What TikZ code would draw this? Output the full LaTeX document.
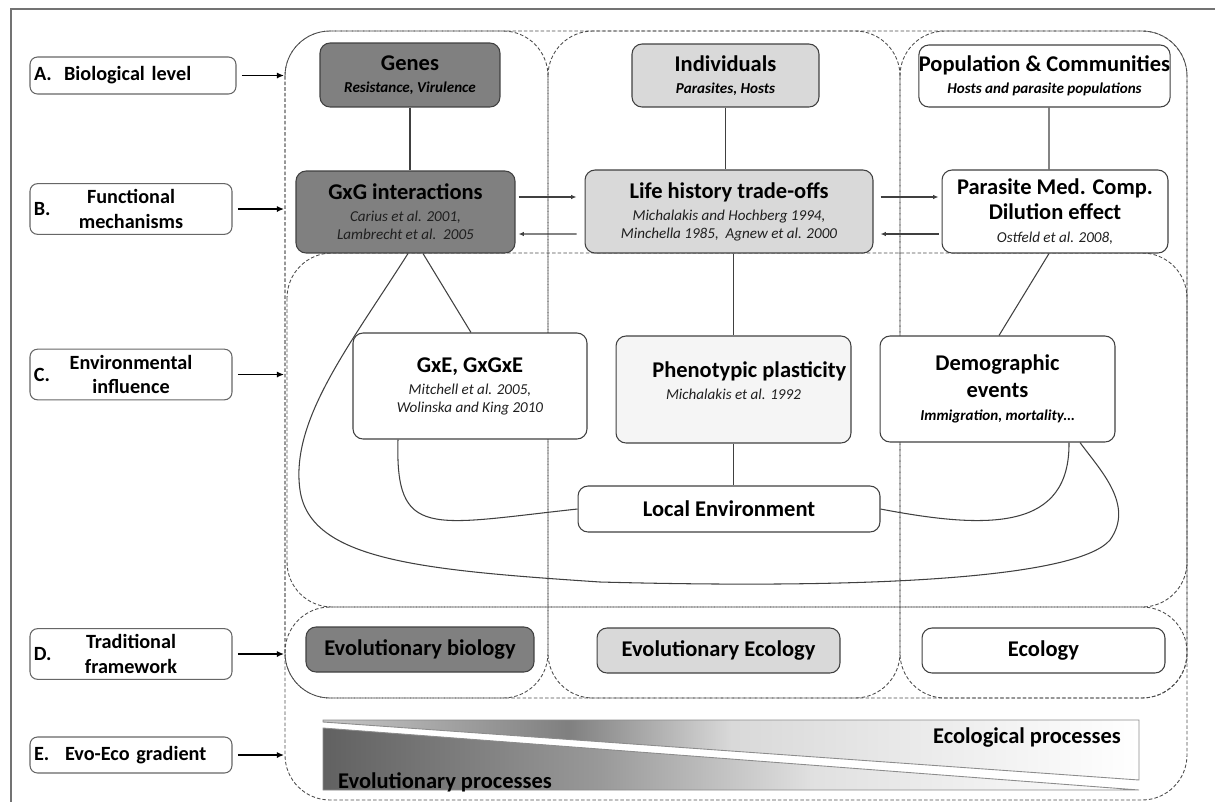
\documentclass[tikz,border=0pt]{standalone}
\usepackage{fontspec}
\setmainfont{Carlito}
\usetikzlibrary{calc}
\usetikzlibrary{arrows.meta}

\newcommand{\refs}[1]{{\fontsize{8.6}{10}\selectfont\mdseries\itshape\color{black!88}#1}}
\newcommand{\tagline}[1]{{\fontsize{8.6}{10}\selectfont\bfseries\itshape #1}}

\pgfdeclarehorizontalshading{ecoshade}{100bp}{color(0bp)=(black!22); color(25bp)=(black!22); color(40bp)=(black!50); color(50bp)=(black!15); color(75bp)=(white); color(100bp)=(white)}
\pgfdeclarehorizontalshading{evoshade}{100bp}{color(0bp)=(black!62); color(25bp)=(black!62); color(42bp)=(black!40); color(55bp)=(black!12); color(75bp)=(white); color(100bp)=(white)}

\begin{document}
\begin{tikzpicture}[x=0.02cm, y=-0.02cm,
    box/.style={draw=black!75, rounded corners=0.2cm, line width=0.6pt, inner sep=0pt, align=center,
                font=\fontsize{12.8}{12.5}\selectfont\bfseries},
    darkbox/.style={box, fill=black!50},
    greybox/.style={box, fill=black!15},
    palebox/.style={box, fill=black!4},
    whitebox/.style={box, fill=white},
    labbox/.style={draw=black!60, rounded corners=0.15cm, line width=0.6pt, fill=white, inner xsep=0.08cm,
                   minimum width=4.04cm, align=center, font=\fontsize{11.5}{14}\selectfont\bfseries},
    grp/.style={draw=black!70, dash pattern=on 2pt off 1.2pt, line width=0.5pt, rounded corners=0.9cm},
    conn/.style={draw=black!75, line width=0.6pt},
    feed/.style={conn, -{Latex[length=3pt,width=2.5pt]}},
    pointer/.style={line width=1.1pt, -{Latex[length=4pt,width=3.5pt]}, shorten <=3pt},
    wedge/.style={draw=black!45, line width=0.5pt}]

    \useasboundingbox (0,0) rectangle (1215,802);
    \draw[black!55, line width=0.8pt] (11,9) rectangle (1260,840);

    \draw[grp] (285,31) rectangle (1187,800);
    \draw[grp] (285,31) rectangle (548,698);
    \draw[grp] (548,31) rectangle (900,698);
    \draw[grp] (900,31) rectangle (1187,698);
    \draw[grp] (287,253) rectangle (1187,607);
    \draw[grp] (285,607) rectangle (1187,698);
    \coordinate (edge) at (284,0);

    \node[labbox, minimum width=4.12cm, minimum height=0.74cm, text width=3.96cm, align=left] (labA) at (133,75.5) {A.\hspace{7pt}Biological level};
    \node[labbox, minimum height=0.88cm] (labB) at (131,209) {Functional\\mechanisms};
    \node[labbox, minimum height=0.9cm] (labC) at (131,374.5) {Environmental\\influence};
    \node[labbox, minimum height=0.88cm] (labD) at (131,654) {Traditional\\framework};
    \node[labbox, minimum height=0.72cm, text width=3.88cm, align=left] (labE) at (131,755) {E.\hspace{9pt}Evo-Eco gradient};
    \node[anchor=west, inner sep=0pt, font=\fontsize{11.5}{14}\selectfont\bfseries] (tagB) at ($(labB.west)+(4,0)$) {B.};
    \node[anchor=west, inner sep=0pt, font=\fontsize{11.5}{14}\selectfont\bfseries] (tagC) at ($(labC.west)+(4,0)$) {C.};
    \node[anchor=west, inner sep=0pt, font=\fontsize{11.5}{14}\selectfont\bfseries] (tagD) at ($(labD.west)+(4,0)$) {D.};

    \draw[pointer] (labA.east) -- (labA.east -| edge);
    \draw[pointer] (labB.east) -- (labB.east -| edge);
    \draw[pointer] (labC.east) -- (labC.east -| edge);
    \draw[pointer] (labD.east) -- (labD.east -| edge);
    \draw[pointer] (labE.east) -- (labE.east -| edge);

    \node[darkbox, minimum width=3.6cm, minimum height=1.28cm] (genes) at (410,75) {Genes\\\tagline{Resistance, Virulence}};
    \node[greybox, minimum width=3.74cm, minimum height=1.26cm] (indiv) at (725.5,75.5) {Individuals\\\tagline{Parasites, Hosts}};
    \node[whitebox, minimum width=4.98cm, minimum height=1.24cm] (popul) at (1044.5,76) {Population \& Communities\\\tagline{Hosts and parasite populations}};

    \node[darkbox, minimum width=4.38cm, minimum height=1.64cm] (gxg) at (405.5,212) {GxG interactions\\\refs{Carius et al. 2001,}\\[-2.3pt]\refs{Lambrecht et al.\ \ 2005}};
    \node[greybox, minimum width=5.76cm, minimum height=1.66cm] (life) at (729,211.5) {Life history trade-offs\\\refs{Michalakis and Hochberg 1994,}\\[-2.3pt]\refs{Minchella 1985,\ \ Agnew et al. 2000}};
    \node[whitebox, minimum width=4.52cm, minimum height=1.66cm] (paras) at (1055,211.5) {Parasite Med. Comp.\\[2.2pt]Dilution effect\\[0.5pt]\refs{Ostfeld et al. 2008,}};

    \node[whitebox, minimum width=4.68cm, minimum height=2.12cm] (gxe) at (470,386) {GxE, GxGxE\\\refs{Mitchell et al. 2005,}\\[-2.3pt]\refs{Wolinska and King 2010}};
    \node[palebox, minimum width=4.7cm, minimum height=2.14cm] (pheno) at (733.5,389.5) {\hspace{18pt}Phenotypic plasticity\\\refs{Michalakis et al. 1992}\\[-2pt]\mbox{}};
    \node[whitebox, minimum width=4.7cm, minimum height=2.12cm] (demo) at (997.5,389) {Demographic\\[2.8pt]events\\[0.5pt]\tagline{Immigration, mortality…}};
    \node[whitebox, minimum width=6.04cm, minimum height=0.92cm] (local) at (729,509) {Local Environment};

    \node[darkbox, minimum width=4.56cm, minimum height=0.9cm] (evob) at (420,649.5) {Evolutionary biology};
    \node[greybox, minimum width=4.86cm, minimum height=0.9cm] (evoe) at (718.5,650.5) {Evolutionary Ecology};
    \node[whitebox, minimum width=4.86cm, minimum height=0.9cm] (ecol) at (1043.5,650.5) {Ecology};

    \draw[conn] (genes.south) -- (genes.south |- gxg.north);
    \draw[conn] (indiv.south) -- (indiv.south |- life.north);
    \draw[conn] ($(popul.south)+(4.5,0)$) -- ($(paras.north)+(-6,0)$);
    \draw[feed] ($(gxg.east)+(3,-15)$) -- ($(life.west)+(-8,-14.5)$);
    \draw[feed] ($(life.west)+(-8,22.5)$) -- ($(gxg.east)+(3,22)$);
    \draw[feed] ($(life.east)+(7,-14.5)$) -- ($(paras.west)+(-3,-14.5)$);
    \draw[feed] ($(paras.west)+(-3,22.5)$) -- ($(life.east)+(7,22.5)$);
    \draw[conn] ($(gxg.south)+(17.5,0)$) -- ($(gxe.north)+(1,0)$);
    \draw[conn] ($(paras.south)+(-6,0)$) -- ($(demo.north)+(1.5,0)$);
    \draw[conn] (life.south -| pheno.north) -- (pheno.north);
    \draw[conn] (pheno.south) -- (pheno.south |- local.north);
    \draw[conn] ($(gxe.south)+(-72,0)$) .. controls (395,540) and (430,525) .. (local.west);
    \draw[conn] (local.east) .. controls (990,530) and (1070,530) .. ($(demo.south)+(71.5,0)$);
    \draw[conn] ($(gxg.south)+(2.5,0)$) .. controls (350,345) and (290,420) .. (300,490)
        .. controls (310,560) and (420,570) .. (600,582)
        .. controls (900,590) and (1080,575) .. (1110,540)
        .. controls (1135,505) and (1100,470) .. ($(demo.south)+(82.5,0)$);

    \path[wedge, shading=ecoshade] (323,720) -- (1139,720) -- (1139,780) -- (323,722) -- cycle;
    \path[wedge, shading=evoshade] (323,728) -- (1139,790) -- (323,790) -- cycle;
    \node[anchor=east, font=\fontsize{12.8}{12.5}\selectfont\bfseries] (ecoproc) at (1127,738) {Ecological processes};
    \node[anchor=west, font=\fontsize{12.8}{12.5}\selectfont\bfseries] (evoproc) at (332,782) {Evolutionary processes};
\end{tikzpicture}
\end{document}
